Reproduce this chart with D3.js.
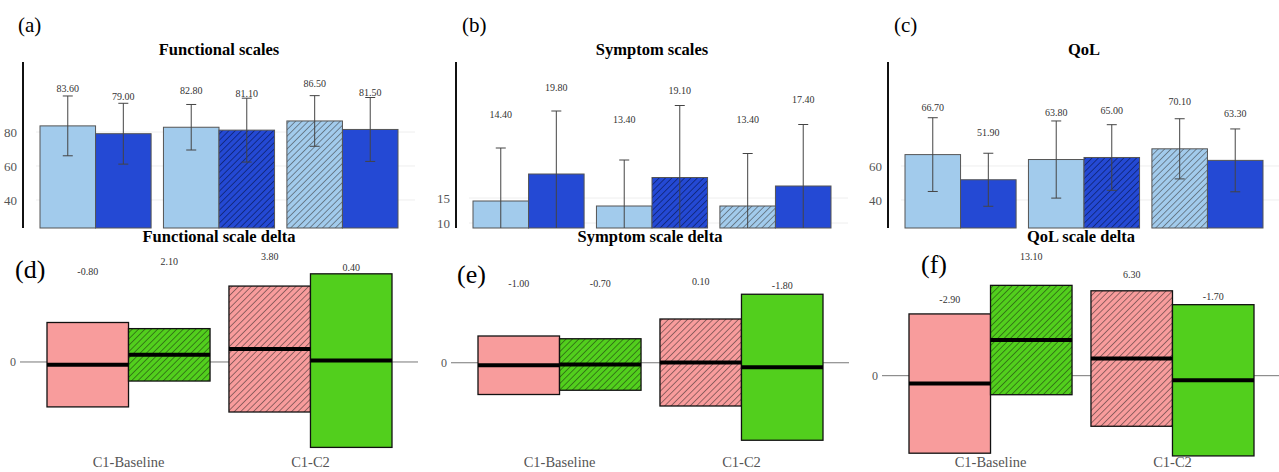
<!DOCTYPE html>
<html>
<head>
<meta charset="utf-8">
<script src="https://cdn.jsdelivr.net/npm/d3@7"></script>
<style>
  body { margin: 0; background: #fff; }
</style>
</head>
<body>
<svg id="chart" width="1279" height="472" font-family="'Liberation Serif', 'DejaVu Serif', serif"></svg>
<script>
// ---- data ----
const funcMeans = [83.6, 79.0, 82.8, 81.1, 86.5, 81.5];
const funcSD    = [17.6, 17.9, 13.4, 18.8, 14.9, 18.8];
const sympMeans = [14.4, 19.8, 13.4, 19.1, 13.4, 17.4];
const sympSD    = [10.6, 12.6, 9.2, 14.4, 10.5, 12.3];
const qolMeans  = [66.7, 51.9, 63.8, 65.0, 70.1, 63.3];
const qolSD     = [21.7, 15.6, 22.7, 19.3, 17.7, 18.5];

const deltaCats    = ["C1-Baseline", "C1-C2"];
const funcDelta    = [-0.8, 2.1, 3.8, 0.4];
const funcDeltaSD  = [12.4, 7.7, 18.5, 25.5];
const sympDelta    = [-1.0, -0.7, 0.1, -1.8];
const sympDeltaSD  = [11.7, 10.3, 17.4, 29.2];
const qolDelta     = [-2.9, 13.1, 6.3, -1.7];
const qolDeltaSD   = [25.6, 20.1, 24.9, 27.8];

const funcTicks = [40, 60, 80];
const sympTicks = [10, 15];
const qolTicks  = [40, 60];

// ---- colours ----
const lightBlue = "#a2cbec", darkBlue = "#2449d4";
const pink = "#f89c9c", green = "#52cf1d";
const serif = "'Liberation Serif', 'DejaVu Serif', serif";

const svg = d3.select("#chart");
const defs = svg.append("defs");

function hatch(id, bg, stroke) {
  const p = defs.append("pattern")
      .attr("id", id)
      .attr("patternUnits", "userSpaceOnUse")
      .attr("width", 4.5)
      .attr("height", 4.5)
      .attr("patternTransform", "rotate(45)");
  p.append("rect").attr("width", 4.5).attr("height", 4.5).attr("fill", bg);
  p.append("line")
      .attr("x1", 2.25).attr("x2", 2.25).attr("y1", 0).attr("y2", 4.5)
      .attr("stroke", stroke).attr("stroke-width", 0.7);
}
hatch("hDark", darkBlue, "#0b1f66");
hatch("hLight", lightBlue, "#55606a");
hatch("hGreen", green, "#2a5a14");
hatch("hPink", pink, "#6a4a4a");

const barFills = [lightBlue, darkBlue, lightBlue, "url(#hDark)", "url(#hLight)", darkBlue];
const boxFills = [pink, "url(#hGreen)", "url(#hPink)", green];

// ---- top row: bar charts with sd error bars ----
const topPanels = [
  { x0: 0,   letter: "(a)", lx: 18, title: "Functional scales", means: funcMeans, sd: funcSD, domain: [23.5, 121.2], ticks: funcTicks, labelDy: 37 },
  { x0: 433, letter: "(b)", lx: 29, title: "Symptom scales",    means: sympMeans, sd: sympSD, domain: [9, 42.2],     ticks: sympTicks, labelDy: 87 },
  { x0: 865, letter: "(c)", lx: 29, title: "QoL",               means: qolMeans,  sd: qolSD,  domain: [23.5, 121.2], ticks: qolTicks,  labelDy: 47 }
];

const top0 = 62, bot0 = 228;

topPanels.forEach((p, pi) => {
  const g = svg.append("g").attr("transform", `translate(${p.x0},0)`);

  const y = d3.scaleLinear().domain(p.domain).range([bot0, top0]);
  const xg = d3.scaleBand().domain([0, 1, 2]).range([40, 398]).paddingInner(0.1);
  const xs = d3.scaleBand().domain([0, 1]).range([0, xg.bandwidth()]);
  const bx = i => xg(Math.floor(i / 2)) + xs(i % 2);

  g.append("clipPath").attr("id", "clipTop" + pi)
    .append("rect").attr("x", 23).attr("y", top0).attr("width", 400).attr("height", bot0 - top0);

  // faint grid
  g.append("g").selectAll("line")
    .data(p.ticks)
    .join("line")
      .attr("x1", 36).attr("x2", 415)
      .attr("y1", d => y(d)).attr("y2", d => y(d))
      .attr("stroke", "#eeeeee");

  // y axis
  g.append("g")
      .attr("transform", "translate(23,0)")
      .call(d3.axisLeft(y).tickValues(p.ticks).tickSize(0).tickPadding(6))
      .attr("font-family", serif)
      .attr("font-size", 13)
      .call(g => g.select(".domain").remove())
      .call(g => g.selectAll("text").attr("fill", "#555"));
  g.append("line")
      .attr("x1", 23).attr("x2", 23).attr("y1", top0).attr("y2", bot0)
      .attr("stroke", "#111").attr("stroke-width", 2);

  g.append("g").selectAll("rect")
    .data(p.means)
    .join("rect")
      .attr("x", (d, i) => bx(i))
      .attr("width", xs.bandwidth())
      .attr("y", d => y(d))
      .attr("height", d => bot0 - y(d))
      .attr("fill", (d, i) => barFills[i])
      .attr("stroke", "#555")
      .attr("stroke-width", 1);

  // error bars
  const eb = g.append("g").attr("clip-path", `url(#clipTop${pi})`)
      .attr("stroke", "#444").attr("stroke-width", 1);
  p.means.forEach((m, i) => {
    const cx = bx(i) + xs.bandwidth() / 2;
    const hi = y(m + p.sd[i]), lo = y(m - p.sd[i]);
    eb.append("line").attr("x1", cx).attr("x2", cx).attr("y1", hi).attr("y2", lo);
    eb.append("line").attr("x1", cx - 5).attr("x2", cx + 5).attr("y1", hi).attr("y2", hi);
    eb.append("line").attr("x1", cx - 5).attr("x2", cx + 5).attr("y1", lo).attr("y2", lo);
  });

  g.append("g").selectAll("text")
    .data(p.means)
    .join("text")
      .attr("x", (d, i) => bx(i) + xs.bandwidth() / 2)
      .attr("y", d => y(d) - p.labelDy)
      .attr("dy", "0.35em")
      .attr("text-anchor", "middle")
      .attr("font-size", 10)
      .attr("fill", "#333")
      .text(d => d.toFixed(2));

  g.append("text")
      .attr("x", 219).attr("y", 55)
      .attr("text-anchor", "middle")
      .attr("font-size", 16.5).attr("font-weight", "bold")
      .text(p.title);

  g.append("text")
      .attr("x", p.lx).attr("y", 32)
      .attr("font-size", 21)
      .text(p.letter);
});

// ---- bottom row: delta boxes (mean +/- sd) ----
const botPanels = [
  { x0: 0,   letter: "(d)", lx: 15, ly: 278, title: "Functional scale delta", vals: funcDelta, sd: funcDeltaSD, domain: [-28.8, 32.9], labelDy: 93 },
  { x0: 431, letter: "(e)", lx: 26, ly: 283, title: "Symptom scale delta",    vals: sympDelta, sd: sympDeltaSD, domain: [-38.9, 45.1], labelDy: 81.5 },
  { x0: 862, letter: "(f)", lx: 59, ly: 273, title: "QoL scale delta",        vals: qolDelta,  sd: qolDeltaSD,  domain: [-31.0, 46.2], labelDy: 84 }
];

botPanels.forEach(p => {
  const g = svg.append("g").attr("transform", `translate(${p.x0},0)`);

  const y = d3.scaleLinear().domain(p.domain).range([460, 250]);
  const xg = d3.scaleBand().domain(deltaCats).range([47, 392]).paddingInner(0.104);
  const xs = d3.scaleBand().domain([0, 1]).range([0, xg.bandwidth()]);
  const bx = i => xg(deltaCats[Math.floor(i / 2)]) + xs(i % 2);

  g.append("line")
      .attr("x1", 20).attr("x2", 418)
      .attr("y1", y(0)).attr("y2", y(0))
      .attr("stroke", "#777").attr("stroke-width", 1);
  g.append("text")
      .attr("x", 16).attr("y", y(0)).attr("dy", "0.35em")
      .attr("text-anchor", "end")
      .attr("font-size", 12).attr("fill", "#555")
      .text("0");

  g.append("g").selectAll("rect")
    .data(p.vals)
    .join("rect")
      .attr("x", (d, i) => bx(i))
      .attr("width", xs.bandwidth())
      .attr("y", (d, i) => y(d + p.sd[i]))
      .attr("height", (d, i) => y(d - p.sd[i]) - y(d + p.sd[i]))
      .attr("fill", (d, i) => boxFills[i])
      .attr("stroke", "#111")
      .attr("stroke-width", 1.3);

  g.append("g").selectAll("line")
    .data(p.vals)
    .join("line")
      .attr("x1", (d, i) => bx(i))
      .attr("x2", (d, i) => bx(i) + xs.bandwidth())
      .attr("y1", d => y(d)).attr("y2", d => y(d))
      .attr("stroke", "#000").attr("stroke-width", 4);

  g.append("g").selectAll("text")
    .data(p.vals)
    .join("text")
      .attr("x", (d, i) => bx(i) + xs.bandwidth() / 2)
      .attr("y", d => y(d) - p.labelDy)
      .attr("dy", "0.35em")
      .attr("text-anchor", "middle")
      .attr("font-size", 10)
      .attr("fill", "#333")
      .text(d => d.toFixed(2));

  g.append("g").selectAll("text")
    .data(deltaCats)
    .join("text")
      .attr("x", d => xg(d) + xg.bandwidth() / 2)
      .attr("y", 467)
      .attr("text-anchor", "middle")
      .attr("font-size", 14.5)
      .attr("fill", "#555")
      .text(d => d);

  g.append("text")
      .attr("x", 219).attr("y", 242)
      .attr("text-anchor", "middle")
      .attr("font-size", 16.5).attr("font-weight", "bold")
      .text(p.title);

  g.append("text")
      .attr("x", p.lx).attr("y", p.ly)
      .attr("font-size", 26)
      .text(p.letter);
});
</script>
</body>
</html>
